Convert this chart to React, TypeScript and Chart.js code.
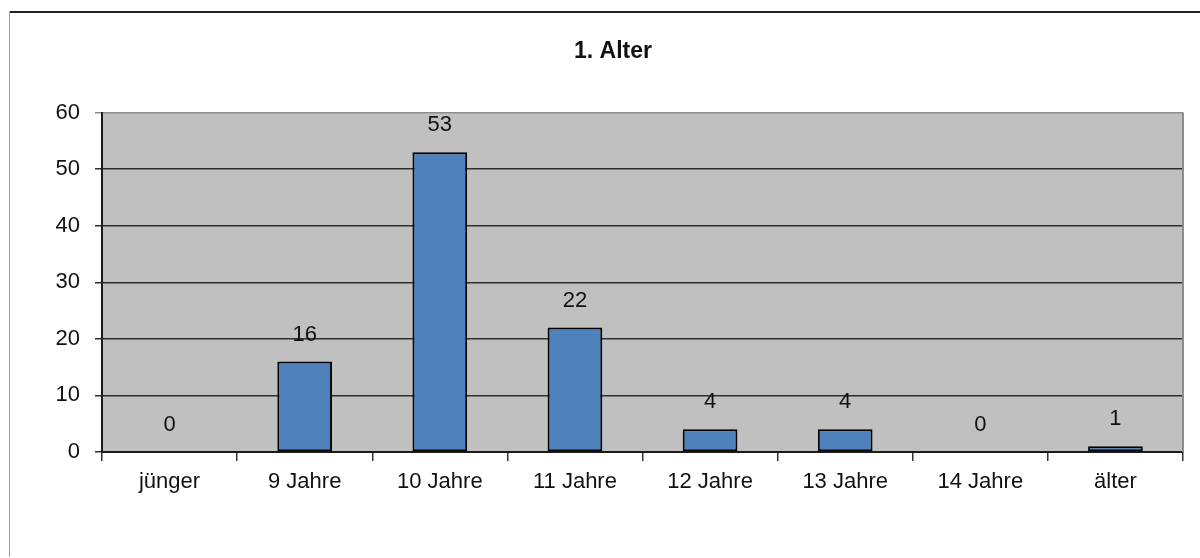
import { useEffect, useRef } from 'react';
import { Chart, registerables, Plugin } from 'chart.js';

Chart.register(...registerables);

const categories = ['jünger', '9 Jahre', '10 Jahre', '11 Jahre', '12 Jahre', '13 Jahre', '14 Jahre', 'älter'];
const counts = [0, 16, 53, 22, 4, 4, 0, 1];
const yTicks = [0, 10, 20, 30, 40, 50, 60];

const FONT = '"Liberation Sans", Arial, sans-serif';

// grey plot background and the lighter right edge
const plotBackground: Plugin<'bar'> = {
  id: 'plotBackground',
  beforeDraw(chart) {
    const { ctx, chartArea } = chart;
    ctx.save();
    ctx.fillStyle = '#c0c0c0';
    ctx.fillRect(chartArea.left, chartArea.top, chartArea.right - chartArea.left, chartArea.bottom - chartArea.top);
    ctx.restore();
  },
  afterDraw(chart) {
    const { ctx, chartArea } = chart;
    ctx.save();
    ctx.strokeStyle = '#8c8c8c';
    ctx.lineWidth = 2;
    ctx.beginPath();
    ctx.moveTo(chartArea.right, chartArea.top);
    ctx.lineTo(chartArea.right, chartArea.bottom);
    ctx.stroke();
    ctx.restore();
  },
};

// values written above each bar
const valueLabels: Plugin<'bar'> = {
  id: 'valueLabels',
  afterDatasetsDraw(chart) {
    const { ctx } = chart;
    const meta = chart.getDatasetMeta(0);
    ctx.save();
    ctx.font = `22px ${FONT}`;
    ctx.fillStyle = '#111';
    ctx.textAlign = 'center';
    ctx.textBaseline = 'middle';
    meta.data.forEach((bar, i) => {
      ctx.fillText(String(counts[i]), bar.x, bar.y - 27);
    });
    ctx.restore();
  },
};

const AlterChart = () => {
  const chartRef = useRef<HTMLCanvasElement | null>(null);
  const chartInstance = useRef<Chart | null>(null);

  useEffect(() => {
    if (chartInstance.current) {
      chartInstance.current.destroy();
    }
    if (!chartRef.current) return;

    chartInstance.current = new Chart(chartRef.current, {
      type: 'bar',
      data: {
        labels: categories,
        datasets: [
          {
            label: 'Alter',
            data: counts,
            backgroundColor: '#4f81bd',
            borderColor: '#000',
            borderWidth: 2,
            borderSkipped: false,
            categoryPercentage: 1,
            barPercentage: 0.405,
          },
        ],
      },
      options: {
        animation: false,
        responsive: true,
        maintainAspectRatio: false,
        layout: { padding: { left: 43, right: 17, top: 0, bottom: 0 } },
        plugins: {
          legend: { display: false },
          tooltip: { enabled: false },
          title: {
            display: true,
            text: '1. Alter',
            color: '#111',
            font: { family: FONT, size: 23, weight: 'bold' },
            padding: { top: 38, bottom: 47 },
          },
        },
        scales: {
          x: {
            afterFit: (scale) => {
              scale.height = 106;
            },
            grid: {
              display: true,
              drawOnChartArea: false,
              drawTicks: true,
              tickLength: 9,
              color: '#333',
              lineWidth: 1.5,
            },
            border: { display: true, color: '#1a1a1a', width: 2 },
            ticks: {
              color: '#111',
              padding: 8,
              font: { family: FONT, size: 22 },
              maxRotation: 0,
            },
          },
          y: {
            min: yTicks[0],
            max: yTicks[yTicks.length - 1],
            afterFit: (scale) => {
              scale.width = 59;
            },
            afterBuildTicks: (scale) => {
              scale.ticks = yTicks.map((v) => ({ value: v }));
            },
            grid: {
              tickLength: 7,
              color: (c) => (c.tick && c.tick.value === 60 ? '#8c8c8c' : '#2e2e2e'),
              lineWidth: 1.5,
            },
            border: { display: true, color: '#1a1a1a', width: 2 },
            ticks: {
              color: '#111',
              padding: 15,
              font: { family: FONT, size: 22 },
            },
          },
        },
      },
      plugins: [plotBackground, valueLabels],
    });

    return () => {
      if (chartInstance.current) {
        chartInstance.current.destroy();
        chartInstance.current = null;
      }
    };
  }, []);

  return (
    <div
      style={{
        position: 'fixed',
        left: 0,
        top: 0,
        width: 1200,
        height: 558,
        background: '#fff',
      }}
    >
      <div
        style={{
          position: 'absolute',
          left: 9,
          top: 11,
          right: 0,
          height: 2,
          background: '#222',
        }}
      />
      <div
        style={{
          position: 'absolute',
          left: 9,
          top: 11,
          width: 1,
          bottom: 1,
          background: '#a0a0a0',
        }}
      />
      <canvas ref={chartRef} />
    </div>
  );
};

export default function App() {
  return <AlterChart />;
}
